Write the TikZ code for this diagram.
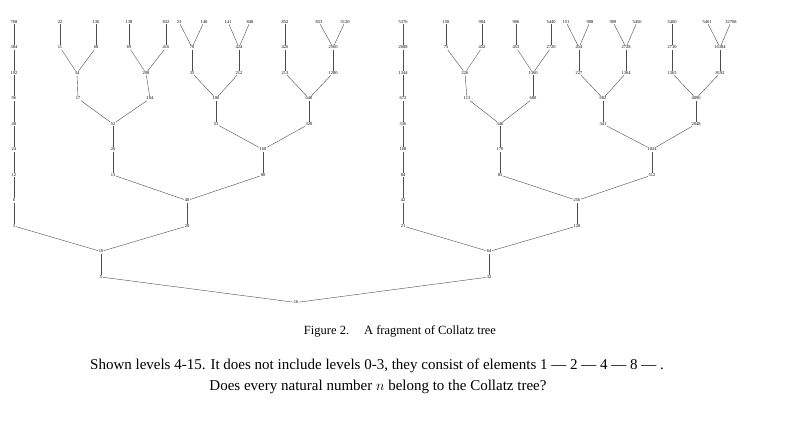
\documentclass[tikz,border=0pt]{standalone}
\usepackage{fontspec}
\setmainfont{Liberation Serif}
\begin{document}
\begin{tikzpicture}[x=1pt,y=-1pt,
  v/.style={font=\fontsize{4.5}{5}\selectfont,inner sep=0.6pt,fill=white},
  e/.style={draw=black!70,line width=0.4pt}]
\useasboundingbox (0,0) rectangle (800,429);
\newcommand\NN[3]{\node[v] (n#3) at (#1,{22+25.5*#2}) {#3};}
% row 11
\NN{296}{11}{16}
\NN{101}{10}{5} \NN{489}{10}{32}
\NN{101}{9}{10} \NN{489}{9}{64}
\NN{14}{8}{3} \NN{187}{8}{20} \NN{403}{8}{21} \NN{577}{8}{128}
\NN{14}{7}{6} \NN{187}{7}{40} \NN{403}{7}{42} \NN{577}{7}{256}
\NN{14}{6}{12} \NN{113}{6}{13} \NN{263}{6}{80} \NN{403}{6}{84} \NN{500}{6}{85} \NN{652}{6}{512}
\NN{14}{5}{24} \NN{113}{5}{26} \NN{263}{5}{160} \NN{403}{5}{168} \NN{500}{5}{170} \NN{652}{5}{1024}
\NN{14}{4}{48} \NN{113}{4}{52} \NN{216}{4}{53} \NN{309}{4}{320} \NN{403}{4}{336} \NN{500}{4}{340} \NN{603}{4}{341} \NN{696}{4}{2048}
\NN{14}{3}{96} \NN{78}{3}{17} \NN{150}{3}{104} \NN{216}{3}{106} \NN{309}{3}{640}
\NN{403}{3}{672} \NN{467}{3}{113} \NN{533}{3}{680} \NN{603}{3}{682} \NN{696}{3}{4096}
\NN{14}{2}{192} \NN{77}{2}{34} \NN{146}{2}{208} \NN{192}{2}{35} \NN{239}{2}{212} \NN{285}{2}{213} \NN{333}{2}{1280}
\NN{403}{2}{1344} \NN{465}{2}{226} \NN{533}{2}{1360} \NN{579}{2}{227} \NN{626}{2}{1364} \NN{672}{2}{1365} \NN{720}{2}{8192}
\NN{14}{1}{384} \NN{60}{1}{11} \NN{96}{1}{68} \NN{129}{1}{69} \NN{166}{1}{416} \NN{192}{1}{70} \NN{239}{1}{424} \NN{285}{1}{426} \NN{333}{1}{2560}
\NN{403}{1}{2688} \NN{446}{1}{75} \NN{482}{1}{452} \NN{516}{1}{453} \NN{551}{1}{2720} \NN{579}{1}{454} \NN{626}{1}{2728} \NN{672}{1}{2730} \NN{720}{1}{16384}
\NN{14}{0}{768} \NN{60}{0}{22} \NN{96}{0}{136} \NN{129}{0}{138} \NN{166}{0}{832} \NN{179}{0}{23} \NN{204}{0}{140} \NN{228}{0}{141} \NN{250}{0}{848} \NN{285}{0}{852} \NN{319}{0}{853} \NN{345}{0}{5120}
\NN{403}{0}{5376} \NN{446}{0}{150} \NN{482}{0}{904} \NN{516}{0}{906} \NN{551}{0}{5440} \NN{566}{0}{151} \NN{590}{0}{908} \NN{613}{0}{909} \NN{637}{0}{5456} \NN{672}{0}{5460} \NN{707}{0}{5461} \NN{731}{0}{32768}
\foreach \a/\b in {16/5,16/32,5/10,32/64,10/3,10/20,64/21,64/128,3/6,6/12,12/24,24/48,48/96,96/192,192/384,384/768,
 20/40,40/13,40/80,13/26,26/52,52/17,52/104,17/34,34/11,34/68,11/22,68/136,104/208,208/69,208/416,69/138,416/832,
 80/160,160/53,160/320,53/106,106/35,106/212,35/70,70/23,70/140,212/424,424/141,424/848,320/640,640/213,640/1280,213/426,426/852,1280/2560,2560/853,2560/5120,
 21/42,42/84,84/168,168/336,336/672,672/1344,1344/2688,2688/5376,128/256,256/85,256/512,85/170,170/340,340/113,340/680,113/226,226/75,226/452,75/150,452/904,
 680/1360,1360/453,1360/2720,453/906,2720/5440,512/1024,1024/341,1024/2048,341/682,682/227,682/1364,227/454,454/151,454/908,1364/2728,2728/909,2728/5456,
 2048/4096,4096/1365,4096/8192,1365/2730,2730/5460,8192/16384,16384/5461,16384/32768}
 \draw[e] (n\a) -- (n\b);
\node[font=\fontsize{12.5}{14}\selectfont] (cap) at (400,331) {Figure 2.\hspace{1.2em}A fragment of Collatz tree};
\node[font=\fontsize{15}{17}\selectfont] (t1) at (377,366) {Shown levels 4-15. It does not include levels 0-3, they consist of elements 1 --- 2 --- 4 --- 8 --- .};
\node[font=\fontsize{15}{17}\selectfont] (t2) at (378,387) {Does every natural number $n$ belong to the Collatz tree?};
\end{tikzpicture}
\end{document}
